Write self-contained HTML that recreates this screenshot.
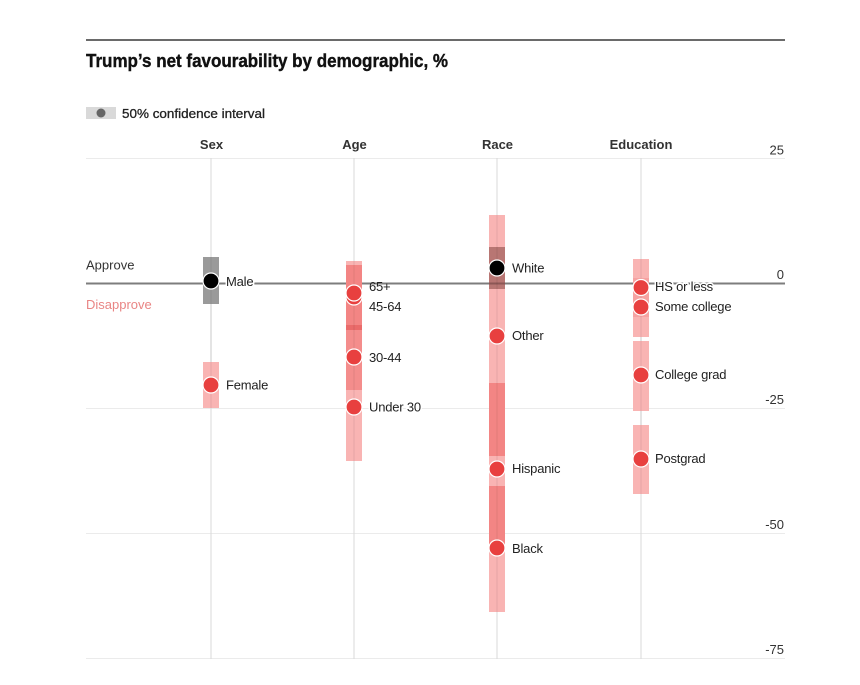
<!DOCTYPE html>
<html>
<head>
<meta charset="utf-8">
<style>
  html,body{margin:0;padding:0;background:#fff;}
  svg{display:block;}
  text{font-family:"Liberation Sans", Arial, sans-serif;}
  .lab{font-size:13px;letter-spacing:-0.2px;fill:#222;stroke:#fff;stroke-width:3px;paint-order:stroke;stroke-linejoin:round;}
  .hdr{font-size:13px;font-weight:bold;fill:#333;}
  .ax{font-size:13px;fill:#333;}
</style>
</head>
<body>
<svg width="860" height="685" viewBox="0 0 860 685" xmlns="http://www.w3.org/2000/svg">
  <rect width="860" height="685" fill="#fff"/>
  <!-- top rule -->
  <line x1="86" y1="40" x2="785" y2="40" stroke="#111" stroke-width="1.3"/>
  <!-- title -->
  <text x="86" y="67" font-size="18" font-weight="bold" fill="#111" stroke="#111" stroke-width="0.4" textLength="362" lengthAdjust="spacingAndGlyphs">Trump’s net favourability by demographic, %</text>

  <!-- legend -->
  <rect x="86" y="107" width="30" height="12" fill="#d9d9d9"/>
  <circle cx="101" cy="113" r="4.5" fill="#666"/>
  <text x="122" y="118" font-size="13" fill="#222" stroke="#222" stroke-width="0.3" textLength="143" lengthAdjust="spacingAndGlyphs">50% confidence interval</text>

  <!-- column headers -->
  <text class="hdr" x="211.5" y="149" text-anchor="middle">Sex</text>
  <text class="hdr" x="354.5" y="149" text-anchor="middle">Age</text>
  <text class="hdr" x="497.5" y="149" text-anchor="middle">Race</text>
  <text class="hdr" x="641" y="149" text-anchor="middle">Education</text>

  <!-- horizontal gridlines -->
  <g stroke="#ebebeb" stroke-width="1">
    <line x1="86" y1="158.5" x2="785" y2="158.5"/>
    <line x1="86" y1="408.5" x2="785" y2="408.5"/>
    <line x1="86" y1="533.5" x2="785" y2="533.5"/>
    <line x1="86" y1="658.5" x2="785" y2="658.5"/>
  </g>
  <!-- vertical gridlines -->
  <g stroke="#dadada" stroke-width="1">
    <line x1="211" y1="158" x2="211" y2="659"/>
    <line x1="354" y1="158" x2="354" y2="659"/>
    <line x1="497" y1="158" x2="497" y2="659"/>
    <line x1="641" y1="158" x2="641" y2="659"/>
  </g>

  <!-- y axis labels -->
  <text class="ax" x="784" y="154.5" text-anchor="end">25</text>
  <text class="ax" x="784" y="279" text-anchor="end">0</text>
  <text class="ax" x="784" y="404" text-anchor="end">-25</text>
  <text class="ax" x="784" y="529" text-anchor="end">-50</text>
  <text class="ax" x="784" y="654" text-anchor="end">-75</text>

  <!-- approve / disapprove -->
  <text x="86" y="269.5" font-size="13" fill="#333">Approve</text>
  <text x="86" y="309" font-size="13" fill="#e98584">Disapprove</text>

  <!-- zero line -->
  <line x1="86" y1="283.5" x2="785" y2="283.5" stroke="#7d7d7d" stroke-width="2"/>

  <!-- SEX bars -->
  <rect x="203" y="257" width="16" height="47" fill="#9a9a9a"/>
  <rect x="203" y="362" width="16" height="46" fill="#f9b4b3"/>

  <!-- AGE bars -->
  <rect x="346" y="261" width="16" height="200" fill="#f9b4b3"/>
  <rect x="346" y="265" width="16" height="60" fill="#f38584"/>
  <rect x="346" y="325" width="16" height="5" fill="#ea6b6a"/>
  <rect x="346" y="330" width="16" height="60" fill="#f48d8c"/>

  <!-- RACE bars -->
  <rect x="489" y="215" width="16" height="397" fill="#f9b4b3"/>
  <rect x="489" y="247" width="16" height="42" fill="#b87673"/>
  <line x1="489" y1="283.5" x2="505" y2="283.5" stroke="#8c5755" stroke-width="2"/>
  <rect x="489" y="383" width="16" height="73" fill="#f38584"/>
  <rect x="489" y="486" width="16" height="58" fill="#f38584"/>

  <!-- EDUCATION bars -->
  <rect x="633" y="259" width="16" height="78" fill="#f9b4b3"/>
  <rect x="633" y="278" width="16" height="39" fill="#f6a3a2"/>
  <rect x="633" y="341" width="16" height="70" fill="#f9b4b3"/>
  <rect x="633" y="425" width="16" height="69" fill="#f9b4b3"/>

  <!-- vertical gridline faintly visible through bars -->
  <g stroke="#000" stroke-opacity="0.08" stroke-width="1">
    <line x1="211" y1="257" x2="211" y2="408"/>
    <line x1="354" y1="261" x2="354" y2="461"/>
    <line x1="497" y1="215" x2="497" y2="612"/>
    <line x1="641" y1="259" x2="641" y2="494"/>
  </g>

  <!-- dots -->
  <g stroke="#fff" stroke-width="1.2">
    <circle cx="211" cy="281" r="8" fill="#000"/>
    <circle cx="211" cy="385" r="8" fill="#e8403f"/>

    <circle cx="354" cy="297" r="8" fill="#e8403f"/>
    <circle cx="354" cy="293" r="8" fill="#e8403f"/>
    <circle cx="354" cy="357" r="8" fill="#e8403f"/>
    <circle cx="354" cy="407" r="8" fill="#e8403f"/>

    <circle cx="497" cy="268" r="8" fill="#000"/>
    <circle cx="497" cy="336" r="8" fill="#e8403f"/>
    <circle cx="497" cy="469" r="8" fill="#e8403f"/>
    <circle cx="497" cy="548" r="8" fill="#e8403f"/>

    <circle cx="641" cy="287.5" r="8" fill="#e8403f"/>
    <circle cx="641" cy="307" r="8" fill="#e8403f"/>
    <circle cx="641" cy="375" r="8" fill="#e8403f"/>
    <circle cx="641" cy="459" r="8" fill="#e8403f"/>
  </g>

  <!-- labels -->
  <text class="lab" x="226" y="286">Male</text>
  <text class="lab" x="226" y="389.5">Female</text>

  <text class="lab" x="369" y="291" style="stroke-width:0">65+</text>
  <text class="lab" x="369" y="311">45-64</text>
  <text class="lab" x="369" y="362">30-44</text>
  <text class="lab" x="369" y="411.5">Under 30</text>

  <text class="lab" x="512" y="272.5">White</text>
  <text class="lab" x="512" y="340">Other</text>
  <text class="lab" x="512" y="473">Hispanic</text>
  <text class="lab" x="512" y="553">Black</text>

  <text class="lab" x="655" y="291">HS or less</text>
  <text class="lab" x="655" y="311">Some college</text>
  <text class="lab" x="655" y="379">College grad</text>
  <text class="lab" x="655" y="463">Postgrad</text>
</svg>
</body>
</html>
